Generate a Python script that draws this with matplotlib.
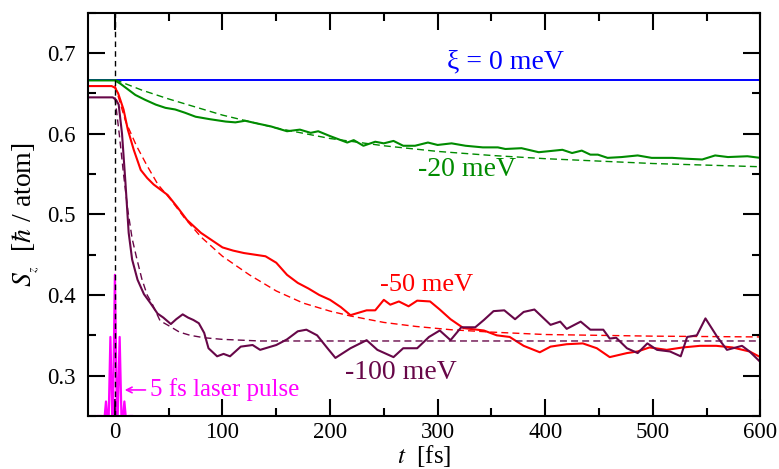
import matplotlib
matplotlib.use("Agg")
import matplotlib.pyplot as plt

plt.rcParams['font.family'] = ['Liberation Serif', 'DejaVu Serif']
plt.rcParams['mathtext.fontset'] = 'stix'

# ---- data ----------------------------------------------------------------
xi0_t = [-25, 600]
xi0_s = [0.667, 0.667]

m20_t = [-25, -2, 0, 5, 10, 19, 28, 38, 47, 56, 65, 75, 88, 103, 112, 121, 131,
         145, 160, 172, 182, 189, 200, 216, 222, 231, 242, 250, 259, 268, 279,
         291, 300, 313, 326, 342, 356, 363, 378, 394, 416, 425, 434, 442, 449,
         458, 471, 486, 499, 518, 530, 546, 558, 570, 588, 600]
m20_s = [0.666, 0.666, 0.666, 0.662, 0.657, 0.648, 0.642, 0.636, 0.632, 0.630,
         0.626, 0.621, 0.618, 0.615, 0.614, 0.616, 0.613, 0.609, 0.603, 0.605,
         0.601, 0.603, 0.597, 0.589, 0.592, 0.585, 0.590, 0.588, 0.591, 0.585,
         0.585, 0.589, 0.586, 0.588, 0.585, 0.583, 0.583, 0.581, 0.582, 0.577,
         0.580, 0.576, 0.579, 0.574, 0.574, 0.570, 0.571, 0.573, 0.570, 0.570,
         0.569, 0.568, 0.573, 0.571, 0.572, 0.570]
m20_fit_t = [0, 25, 50, 75, 100, 150, 200, 250, 300, 350, 400, 450, 500, 550, 600]
m20_fit_s = [0.667, 0.654, 0.643, 0.633, 0.623, 0.607, 0.594, 0.585, 0.578,
             0.573, 0.569, 0.566, 0.563, 0.561, 0.559]

m50_t = [-25, -3, 0, 3, 8, 12, 17.5, 24, 30, 36, 49, 58, 67, 80, 90, 100, 110,
         120, 130, 140, 150, 160, 170, 180, 190, 200, 210, 219, 234, 242, 250,
         256, 264, 273, 281, 293, 302, 312, 324, 343, 355, 367, 380, 395, 405,
         420, 435, 448, 460, 476, 486, 497, 513, 528, 544, 559, 574, 590, 600]
m50_s = [0.659, 0.659, 0.657, 0.650, 0.630, 0.605, 0.580, 0.555, 0.545, 0.537,
         0.524, 0.509, 0.493, 0.477, 0.468, 0.459, 0.455, 0.452, 0.450, 0.448,
         0.440, 0.425, 0.415, 0.408, 0.400, 0.394, 0.385, 0.375, 0.381, 0.381,
         0.394, 0.388, 0.392, 0.386, 0.393, 0.392, 0.382, 0.370, 0.359, 0.356,
         0.350, 0.348, 0.337, 0.329, 0.336, 0.339, 0.340, 0.334, 0.323, 0.328,
         0.330, 0.335, 0.332, 0.335, 0.337, 0.337, 0.335, 0.330, 0.323]
m50_fit_t = [0, 10, 20, 30, 40, 52, 65, 80, 100, 125, 150, 175, 200, 219, 250,
             280, 312, 350, 400, 450, 500, 600]
m50_fit_s = [0.660, 0.615, 0.585, 0.560, 0.537, 0.518, 0.495, 0.472, 0.448,
             0.425, 0.405, 0.390, 0.380, 0.374, 0.366, 0.361, 0.357, 0.354,
             0.351, 0.350, 0.349, 0.348]

m100_t = [-25, -2, 1, 3.5, 6.6, 9.8, 12.8, 16, 21, 27, 33, 39.6, 45, 52, 57, 63,
          68, 73, 78, 83, 87, 95, 101, 107, 117, 128, 135, 150, 160, 170, 178,
          188, 197, 205, 212, 219, 234, 244, 259, 268, 281, 292, 302, 312, 322,
          335, 343, 352, 362, 372, 380, 390, 405, 414, 420, 433, 442, 454, 460,
          466, 476, 486, 495, 504, 516, 526, 532, 541, 549, 560, 569, 583, 590,
          600]
m100_s = [0.645, 0.645, 0.642, 0.636, 0.600, 0.539, 0.477, 0.444, 0.419, 0.401,
          0.390, 0.377, 0.372, 0.364, 0.370, 0.376, 0.372, 0.369, 0.365, 0.353,
          0.334, 0.324, 0.327, 0.324, 0.336, 0.338, 0.332, 0.338, 0.345, 0.355,
          0.357, 0.350, 0.335, 0.322, 0.328, 0.334, 0.344, 0.332, 0.323, 0.334,
          0.334, 0.348, 0.356, 0.344, 0.360, 0.360, 0.369, 0.380, 0.381, 0.370,
          0.379, 0.382, 0.363, 0.367, 0.358, 0.367, 0.357, 0.357, 0.346, 0.347,
          0.334, 0.328, 0.340, 0.332, 0.330, 0.324, 0.348, 0.350, 0.371, 0.348,
          0.332, 0.337, 0.330, 0.317]
m100_fit_t = [0, 4, 8, 12, 16, 20, 25, 30, 35, 42, 50, 60, 70, 83, 100, 135, 600]
m100_fit_s = [0.645, 0.600, 0.550, 0.505, 0.470, 0.447, 0.420, 0.400, 0.388,
              0.368, 0.362, 0.354, 0.350, 0.347, 0.345, 0.343, 0.343]

pulse_t = [-16, -12, -10.5, -8.3, -6.3, -6.0, -4.2, -2.3, -2.0, 0, 2.0, 2.3,
           4.4, 6.3, 6.6, 8.8, 11, 12.5, 16]
pulse_s = [0.25, 0.25, 0.235, 0.268, 0.235, 0.235, 0.348, 0.235, 0.235, 0.425,
           0.235, 0.235, 0.348, 0.235, 0.235, 0.268, 0.235, 0.25, 0.25]

# ---- colours -------------------------------------------------------------
c_blue = '#0000ff'
c_green = '#008b00'
c_red = '#ff0000'
c_purple = '#670748'
c_mag = '#ff00ff'

fig = plt.figure(figsize=(7.79, 4.69), dpi=100)
ax = fig.add_axes([0.113, 0.113, 0.863, 0.860])

ax.plot(pulse_t, pulse_s, color=c_mag, lw=1.6, zorder=2)
ax.axvline(0, color='black', lw=1.0, ls=(0, (4, 3)), zorder=3)

ax.plot(xi0_t, xi0_s, color=c_blue, lw=1.4)
ax.plot(m20_fit_t, m20_fit_s, color=c_green, lw=1.0, ls=(0, (5, 3)))
ax.plot(m20_t, m20_s, color=c_green, lw=1.5)
ax.plot(m50_fit_t, m50_fit_s, color=c_red, lw=1.0, ls=(0, (5, 3)))
ax.plot(m50_t, m50_s, color=c_red, lw=1.5)
ax.plot(m100_fit_t, m100_fit_s, color=c_purple, lw=1.0, ls=(0, (5, 3)))
ax.plot(m100_t, m100_s, color=c_purple, lw=1.5)

ax.set_xlim(-25, 600)
ax.set_ylim(0.25, 0.75)
ax.set_xticks([0, 100, 200, 300, 400, 500, 600])
ax.set_xticks([50, 150, 250, 350, 450, 550], minor=True)
ax.set_yticks([0.3, 0.4, 0.5, 0.6, 0.7])
ax.set_yticks([0.25, 0.35, 0.45, 0.55, 0.65, 0.75], minor=True)
ax.set_yticklabels(['0.3', '0.4', '0.5', '0.6', '0.7'])

ax.tick_params(which='both', direction='in', top=True, right=True,
               labelsize=16.5, width=1.5)
ax.tick_params(which='major', length=12)
ax.tick_params(which='minor', length=6)
ax.tick_params(axis='y', which='major', pad=9)
ax.tick_params(axis='x', which='major', pad=4)
for sp in ax.spines.values():
    sp.set_linewidth(1.5)

ax.set_xlabel(r'$t$  [fs]', fontsize=18, labelpad=0)
ax.set_ylabel(r'$S_{_z}$  [$\hbar$ / atom]', fontsize=20, labelpad=4)

ax.text(363, 0.689, 'ξ = 0 meV', color=c_blue, fontsize=20,
        ha='center', va='center')
ax.text(327.5, 0.5553, '-20 meV', color=c_green, fontsize=20,
        ha='center', va='center')
ax.text(289.4, 0.4125, '-50 meV', color=c_red, fontsize=19,
        ha='center', va='center')
ax.text(265.4, 0.3034, '-100 meV', color=c_purple, fontsize=20,
        ha='center', va='center')
ax.annotate('', xy=(6.5, 0.2823), xytext=(31, 0.2823),
            arrowprops=dict(arrowstyle='->', color=c_mag, lw=1.2))
ax.text(33, 0.2823, '5 fs laser pulse', color=c_mag, fontsize=18,
        ha='left', va='center')

fig.savefig('out.png', dpi=100)
